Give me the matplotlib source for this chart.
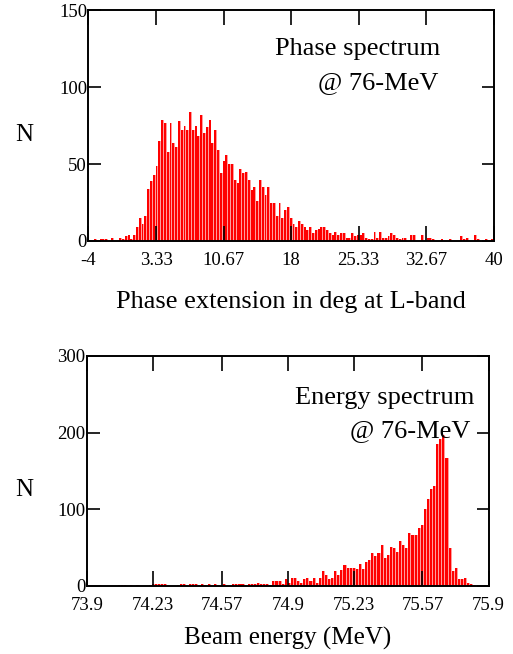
import numpy as np
import matplotlib
matplotlib.use("Agg")
import matplotlib.pyplot as plt

plt.rcParams['font.family'] = ['Liberation Serif', 'DejaVu Serif']

# ---------------- data ----------------
phase_range = (-4.0, 40.0)
phase_counts = [
    0, 0, 1, 0, 1, 1, 1, 0, 2, 0, 0, 2, 1, 3, 4, 1, 4, 9, 15, 11,
    16, 34, 39, 43, 49, 65, 79, 77, 58, 77, 64, 61, 78, 72, 75, 72, 84, 72, 75, 68,
    82, 70, 74, 79, 64, 72, 59, 44, 52, 56, 50, 50, 40, 38, 47, 44, 45, 40, 33, 35,
    26, 40, 35, 30, 35, 25, 25, 16, 25, 15, 20, 22, 15, 11, 9, 13, 11, 9, 7, 9,
    5, 7, 8, 9, 9, 7, 5, 4, 6, 4, 5, 5, 2, 2, 5, 3, 4, 4, 5, 2,
    1, 1, 6, 2, 6, 2, 2, 3, 5, 4, 2, 1, 2, 2, 0, 4, 4, 0, 0, 4,
    0, 2, 2, 1, 0, 0, 1, 0, 0, 1, 0, 0, 0, 3, 1, 2, 0, 0, 4, 1,
    0, 0, 1, 0, 1,
]
phase_ticks = [-4, 3.33, 10.67, 18, 25.33, 32.67, 40]
phase_tick_labels = ["-4", "3.33", "10.67", "18", "25.33", "32.67", "40"]
phase_yticks = [0, 50, 100, 150]

energy_range = (73.9, 75.9)
energy_counts = [
    1, 1, 1, 0, 1, 0, 0, 0, 0, 0, 1, 1, 1, 0, 1, 0, 1, 0, 0, 0,
    1, 3, 3, 2, 2, 3, 1, 0, 0, 1, 2, 2, 1, 3, 2, 3, 1, 2, 1, 3,
    0, 2, 1, 0, 3, 0, 0, 3, 3, 2, 3, 1, 3, 2, 3, 4, 3, 3, 2, 1,
    7, 6, 6, 3, 9, 4, 10, 11, 6, 4, 9, 11, 7, 11, 4, 10, 19, 14, 9, 11,
    19, 14, 21, 27, 24, 23, 24, 22, 29, 22, 31, 34, 43, 39, 43, 54, 36, 41, 51, 50,
    44, 59, 54, 49, 69, 67, 67, 76, 79, 100, 114, 127, 130, 185, 191, 197, 167, 50, 20, 24,
    9, 9, 11, 4, 2, 1, 0, 0, 1, 0,
]
energy_ticks = [73.9, 74.23, 74.57, 74.9, 75.23, 75.57, 75.9]
energy_tick_labels = ["73.9", "74.23", "74.57", "74.9", "75.23", "75.57", "75.9"]
energy_yticks = [0, 100, 200, 300]

# ---------------- figure ----------------
W, H = 513, 654
fig = plt.figure(figsize=(5.13, 6.54), dpi=100)
ax1 = fig.add_axes([0.1725, 0.6315, 0.790, 0.3525])
ax2 = fig.add_axes([0.1696, 0.104, 0.7830, 0.352])

RED = "#ff0000"
PINK = "#ff9c9c"


def draw_hist(ax, counts, xr):
    counts = np.asarray(counts, dtype=float)
    edges = np.linspace(xr[0], xr[1], len(counts) + 1)
    w = edges[1] - edges[0]
    ax.bar(edges[:-1], counts, width=w, align="edge", color=PINK, linewidth=0)
    ax.bar(edges[:-1], counts, width=w * 0.68, align="edge", color=RED, linewidth=0)


def style(ax, xr, yl, xt, xtl, yt):
    ax.set_xlim(*xr)
    ax.set_ylim(*yl)
    ax.set_xticks(xt)
    ax.set_xticklabels(xtl)
    ax.set_yticks(yt)
    for s in ax.spines.values():
        s.set_linewidth(1.4)
    ax.tick_params(axis="x", which="major", direction="in", length=11, width=1.2,
                   top=True, bottom=True, labelsize=13.5, pad=8)
    ax.tick_params(axis="y", which="major", direction="in", length=9, width=1.2,
                   left=True, right=True, labelsize=13.5, pad=1)


draw_hist(ax1, phase_counts, phase_range)
style(ax1, phase_range, (0, 150), phase_ticks, phase_tick_labels, phase_yticks)
fig.text(440 / W, 1 - 49 / H, "Phase spectrum", ha="right", va="center", fontsize=19)
fig.text(438 / W, 1 - 83 / H, "@ 76-MeV", ha="right", va="center", fontsize=19)
ax1.set_xlabel("Phase extension in deg at L-band", fontsize=19, labelpad=16)
fig.text(0.048, 1 - 135 / H, "N", fontsize=18, ha="center", va="center")

draw_hist(ax2, energy_counts, energy_range)
style(ax2, energy_range, (0, 300), energy_ticks, energy_tick_labels, energy_yticks)
fig.text(474 / W, 1 - 398 / H, "Energy spectrum", ha="right", va="center", fontsize=19)
fig.text(470 / W, 1 - 431 / H, "@ 76-MeV", ha="right", va="center", fontsize=19)
ax2.set_xlabel("Beam energy (MeV)", fontsize=18, labelpad=9)
fig.text(0.048, 1 - 490 / H, "N", fontsize=18, ha="center", va="center")

fig.savefig("out.png", dpi=100)
